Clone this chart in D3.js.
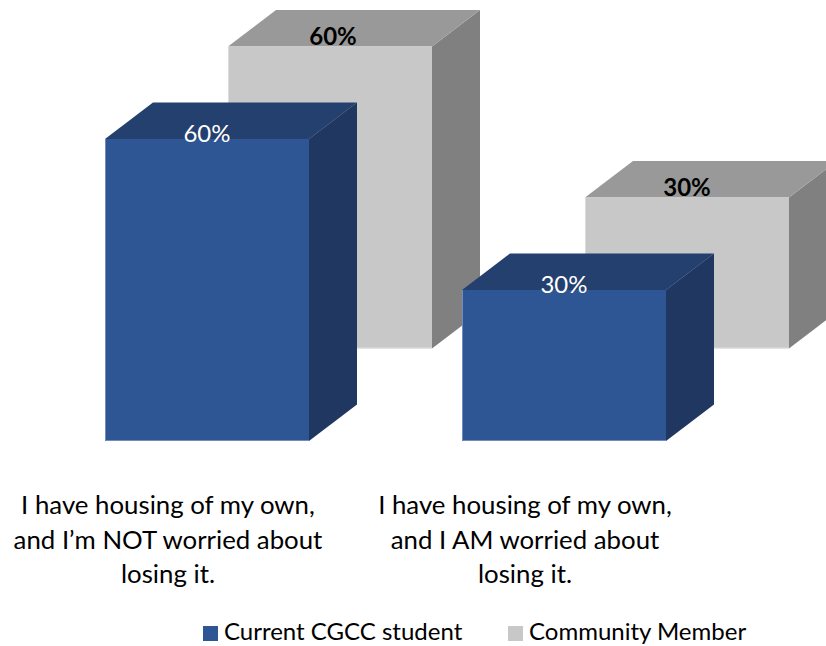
<!DOCTYPE html>
<html>
<head>
<meta charset="utf-8">
<script src="https://cdn.jsdelivr.net/npm/d3@7"></script>
<style>
  html, body { margin: 0; padding: 0; background: #ffffff; }
  svg { display: block; }
  text { font-family: Lato, "Open Sans", sans-serif; }
</style>
</head>
<body>
<svg id="chart" width="826" height="646"></svg>
<script>
// Survey answers (two categories), each split into wrapped label lines
const categories = ["own-not-worried", "own-worried"];
const categoryLines = [
  ["I have housing of my own,", "and I’m NOT worried about", "losing it."],
  ["I have housing of my own,", "and I AM worried about", "losing it."]
];
const seriesNames = ["Current CGCC student", "Community Member"];
const studentValues = [60, 30];
const communityValues = [60, 30];
const valueLabels = ["60%", "30%"];

const W = 826, H = 646;
const svg = d3.select("#chart");

// front row = students, back row = community members
const x = d3.scaleBand()
  .domain(categories)
  .range([105, 666])
  .paddingInner(0.4286)
  .paddingOuter(0);

const y = d3.scaleLinear().domain([0, 60]).range([441, 139]);

// 3-D projection: depth of one box and offset of the back row
const depth = { dx: 48, dy: -36.5 };
const rowShift = [{ dx: 0, dy: 0 }, { dx: 123, dy: -92.5 }];

const palettes = [
  { front: "#2E5594", top: "#24406F", side: "#1F3761", edge: "#8FA6CC", label: "#ffffff", weight: 400 },
  { front: "#C8C8C8", top: "#999999", side: "#808080", edge: "#E4E4E4", label: "#000000", weight: 700 }
];

const seriesValues = [studentValues, communityValues];

svg.append("defs").append("clipPath").attr("id", "plot-clip")
  .append("rect").attr("x", 0).attr("y", 0).attr("width", W).attr("height", H);

const plot = svg.append("g").attr("clip-path", "url(#plot-clip)");

// draw back row first so the front row overlaps it
[1, 0].forEach(s => {
  const pal = palettes[s];
  const sh = rowShift[s];
  const rows = categories.map((c, i) => ({ c, i, v: seriesValues[s][i] }));
  const g = plot.append("g").attr("class", "series-" + s);

  const boxes = g.selectAll("g.box").data(rows).join("g").attr("class", "box");

  boxes.each(function (d) {
    const x0 = x(d.c) + sh.dx;
    const x1 = x0 + x.bandwidth();
    const yb = y(0) + sh.dy;
    const yt = y(d.v) + sh.dy;
    const b = d3.select(this);
    const pt = (px, py) => px + "," + py;

    // right side face
    b.append("polygon")
      .attr("points", [pt(x1, yt), pt(x1 + depth.dx, yt + depth.dy), pt(x1 + depth.dx, yb + depth.dy), pt(x1, yb)].join(" "))
      .attr("fill", pal.side);
    // top face
    b.append("polygon")
      .attr("points", [pt(x0, yt), pt(x0 + depth.dx, yt + depth.dy), pt(x1 + depth.dx, yt + depth.dy), pt(x1, yt)].join(" "))
      .attr("fill", pal.top);
    // front face
    b.append("rect")
      .attr("x", x0).attr("y", yt)
      .attr("width", x1 - x0).attr("height", yb - yt)
      .attr("fill", pal.front);
    // faint highlight along the lower and left edges
    b.append("path")
      .attr("d", `M${x0 + 0.5},${yt} L${x0 + 0.5},${yb - 0.5} L${x1},${yb - 0.5}`)
      .attr("fill", "none")
      .attr("stroke", pal.edge)
      .attr("stroke-width", 1)
      .attr("opacity", 0.7);

    // value label sitting on the top edge of the front face
    b.append("text")
      .attr("x", (x0 + x1) / 2 + (s === 1 && d.i === 0 ? 3 : 0))
      .attr("y", yt + (s === 0 ? 2.5 : -2))
      .attr("text-anchor", "middle")
      .attr("font-size", 24)
      .attr("font-weight", pal.weight)
      .attr("fill", pal.label)
      .text(valueLabels[d.i]);
  });
});

// category labels under the floor
const catG = svg.append("g").attr("class", "categories");
categories.forEach((c, i) => {
  const cx = x(c) + x.bandwidth() / 2 - 39;
  const t = catG.append("text")
    .attr("text-anchor", "middle")
    .attr("font-size", 25.8)
    .attr("fill", "#000000");
  categoryLines[i].forEach((line, k) => {
    t.append("tspan").attr("x", cx).attr("y", 514 + k * 34.5).text(line);
  });
});

// legend
const legendItems = [
  { name: seriesNames[0], color: palettes[0].front, x: 203 },
  { name: seriesNames[1], color: palettes[1].front, x: 508 }
];
const lg = svg.append("g").attr("class", "legend");
legendItems.forEach(item => {
  lg.append("rect")
    .attr("x", item.x).attr("y", 626)
    .attr("width", 15).attr("height", 15)
    .attr("fill", item.color);
  lg.append("text")
    .attr("x", item.x + 21).attr("y", 640)
    .attr("font-size", 24)
    .attr("fill", "#000000")
    .text(item.name);
});
</script>
</body>
</html>
